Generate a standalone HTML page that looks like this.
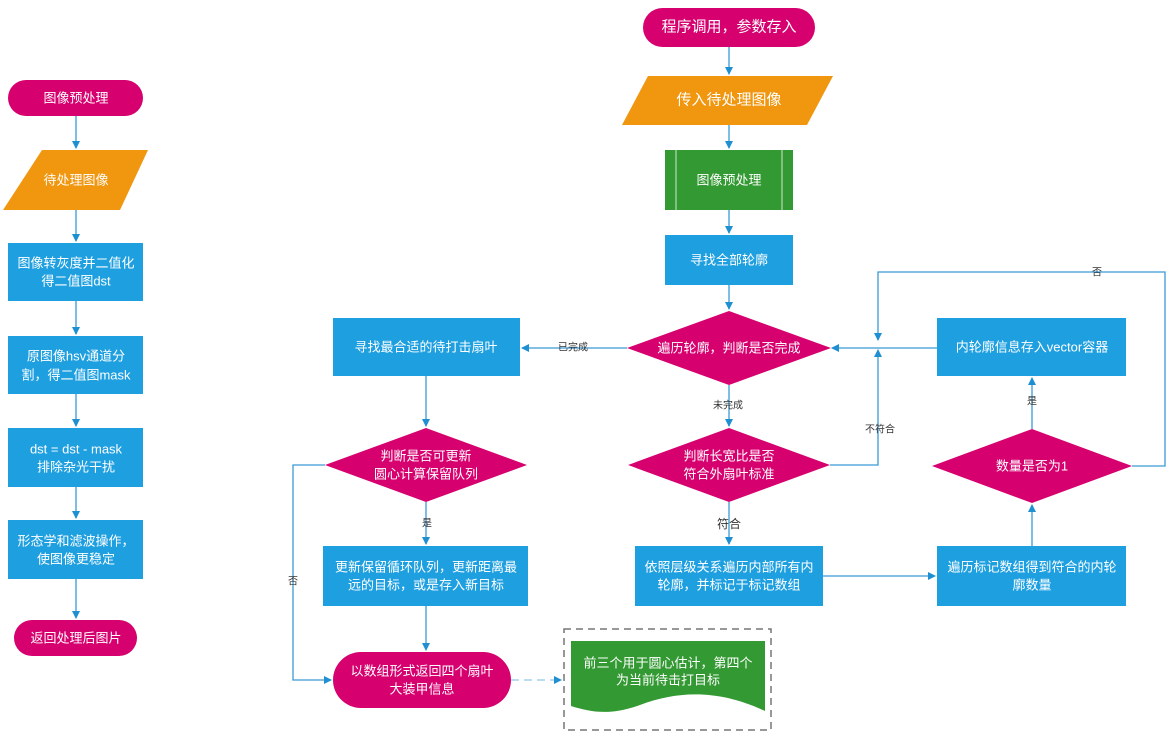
<!DOCTYPE html><html><head><meta charset="utf-8"><style>body{margin:0;background:#fff}svg{display:block}text{font-family:"Liberation Sans","Noto Sans CJK SC",sans-serif;fill:#fff;font-size:13px;text-anchor:middle;dominant-baseline:central}.l{fill:#333;font-size:10px}</style></head><body>
<svg width="1167" height="733" viewBox="0 0 1167 733">
<defs><marker id="a" markerWidth="8" markerHeight="8" refX="7" refY="4" orient="auto" markerUnits="userSpaceOnUse"><path d="M0,0L8,4L0,8z" fill="#1e8fd0"/></marker></defs>
<g stroke="#3a9ad6" stroke-width="1.3" fill="none" marker-end="url(#a)">
<path d="M76 116V148"/><path d="M76 210V241"/><path d="M76 301V334"/><path d="M76 394V426"/><path d="M76 487V518"/><path d="M76 579V618"/>
<path d="M729 47V74"/><path d="M729 125V148"/><path d="M729 210V233"/><path d="M729 285V309"/><path d="M729 385V426"/><path d="M729 502V544"/>
<path d="M627 348H522"/><path d="M426 376V426"/><path d="M426 502V544"/><path d="M426 606V650"/>
<path d="M325 465H293V680H331"/><path d="M823 576H935"/><path d="M1032 546V505"/><path d="M1032 429V378"/>
<path d="M937 348H832"/><path d="M830 465H878V350"/><path d="M1132 466H1165V272H878V340"/>
</g>
<path d="M511 680H561" stroke="#8fc8ea" stroke-width="1.3" stroke-dasharray="8,5" fill="none" marker-end="url(#a)"/>
<rect x="564" y="629" width="207" height="101" fill="none" stroke="#777" stroke-width="1.5" stroke-dasharray="7,5"/>
<g fill="#d6006f"><rect x="8" y="80" width="135" height="36" rx="18"/><rect x="14" y="620" width="123" height="36" rx="18"/><rect x="643" y="8" width="172" height="39" rx="19.5"/><rect x="333" y="652" width="178" height="56" rx="28"/>
<path d="M627 348L729 311L831 348L729 385z"/><path d="M325 465L426 428L527 465L426 502z"/><path d="M628 465L729 428L830 465L729 502z"/><path d="M932 466L1032 429L1132 466L1032 503z"/></g>
<g fill="#f0960f"><path d="M42 150H148L120 210H3z"/><path d="M648 76H833L807 125H622z"/></g>
<g fill="#1e9fe0"><rect x="8" y="243" width="135" height="58"/><rect x="8" y="336" width="135" height="58"/><rect x="8" y="428" width="135" height="59"/><rect x="8" y="520" width="135" height="59"/>
<rect x="665" y="235" width="128" height="50"/><rect x="333" y="318" width="187" height="58"/><rect x="323" y="546" width="205" height="60"/><rect x="635" y="546" width="188" height="60"/><rect x="937" y="546" width="189" height="60"/><rect x="937" y="318" width="189" height="58"/></g>
<rect x="665" y="150" width="128" height="60" fill="#339933"/><path d="M676 150V210M782 150V210" stroke="#cfe8cf" stroke-width="1"/>
<path d="M571 641H765V711C720 690 680 690 640 705C610 716 590 712 571 706z" fill="#339933"/>
<text x="76" y="98">图像预处理</text><text x="76" y="180">待处理图像</text>
<text x="76" y="263">图像转灰度并二值化</text><text x="76" y="281">得二值图dst</text>
<text x="76" y="356">原图像hsv通道分</text><text x="76" y="375">割，得二值图mask</text>
<text x="76" y="449">dst = dst - mask</text><text x="76" y="467">排除杂光干扰</text>
<text x="76" y="541">形态学和滤波操作，</text><text x="76" y="559">使图像更稳定</text>
<text x="76" y="638">返回处理后图片</text>
<text x="729" y="27" style="font-size:15px">程序调用，参数存入</text><text x="729" y="100" style="font-size:15px">传入待处理图像</text>
<text x="729" y="180">图像预处理</text><text x="729" y="260">寻找全部轮廓</text><text x="729" y="348">遍历轮廓，判断是否完成</text>
<text x="426" y="347">寻找最合适的待打击扇叶</text><text x="426" y="456">判断是否可更新</text><text x="426" y="474">圆心计算保留队列</text>
<text x="426" y="567">更新保留循环队列，更新距离最</text><text x="426" y="585">远的目标，或是存入新目标</text>
<text x="422" y="671">以数组形式返回四个扇叶</text><text x="422" y="689">大装甲信息</text>
<text x="668" y="663">前三个用于圆心估计，第四个</text><text x="668" y="680">为当前待击打目标</text>
<text x="729" y="456">判断长宽比是否</text><text x="729" y="474">符合外扇叶标准</text>
<text x="729" y="567">依照层级关系遍历内部所有内</text><text x="729" y="585">轮廓，并标记于标记数组</text>
<text x="1032" y="567">遍历标记数组得到符合的内轮</text><text x="1032" y="585">廓数量</text>
<text x="1032" y="466">数量是否为1</text><text x="1032" y="347">内轮廓信息存入vector容器</text>
<text class="l" x="573" y="348">已完成</text><text class="l" x="728" y="406">未完成</text><text class="l" x="729" y="524" style="font-size:12px">符合</text>
<text class="l" x="427" y="524">是</text><text class="l" x="293" y="582">否</text><text class="l" x="880" y="430">不符合</text>
<text class="l" x="1032" y="402">是</text><text class="l" x="1097" y="273">否</text>
</svg></body></html>
